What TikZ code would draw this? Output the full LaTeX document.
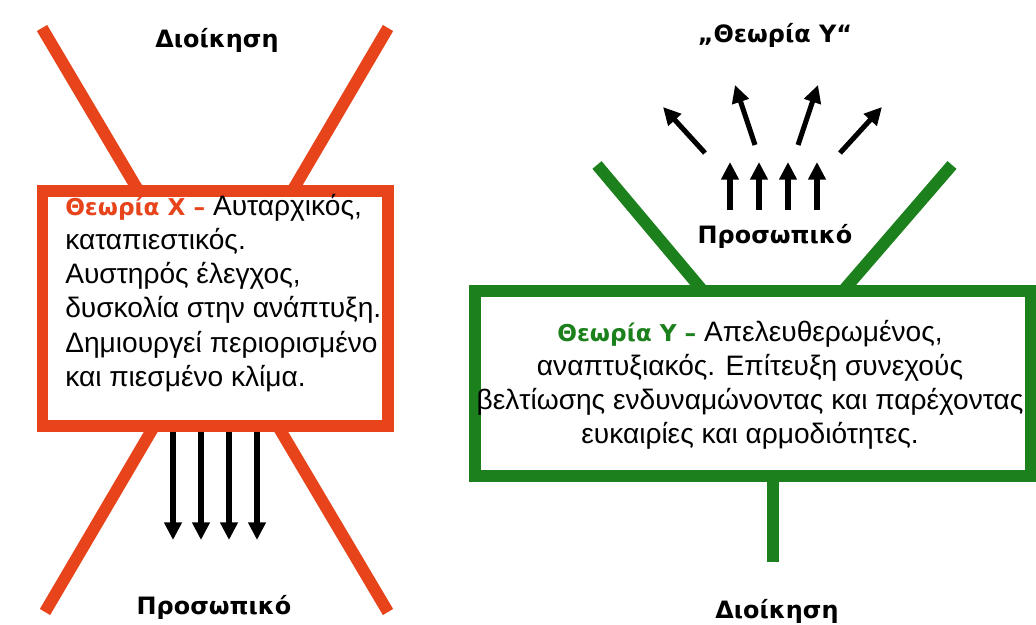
\documentclass[tikz,border=0pt]{standalone}
\usepackage{fontspec}
\setmainfont{Liberation Sans}
\newfontfamily\boldlabel{DejaVu Sans}
\usepackage{xcolor}
\usetikzlibrary{arrows.meta}

\definecolor{theoryred}{RGB}{232,68,28}
\definecolor{theorygreen}{RGB}{28,128,28}

\newcommand{\headline}[2]{\textcolor{#1}{\boldlabel\bfseries\fontsize{16.5}{24.3}\selectfont #2}}

\begin{document}
\begin{tikzpicture}[x=0.7113pt, y=-0.7113pt,
    beamX/.style={theoryred, line width=8.5pt},
    beamY/.style={theorygreen, line width=8.5pt},
    flow/.style={-{Triangle[length=12.5pt,width=12pt]}, line width=3.6pt},
    label/.style={font=\boldlabel\bfseries\fontsize{17}{20}\selectfont, inner sep=0pt},
    body/.style={font=\fontsize{20}{24.3}\selectfont, inner sep=0pt}]

    \useasboundingbox (0,0) rectangle (1036,625);

    % Crossed beams of theory X
    \draw[beamX] (42,28) -- (388,612);
    \draw[beamX] (388,28) -- (45,612);

    % Box of theory X, hiding the crossing
    \draw[beamX, fill=white] (42.5,191) rectangle (388,426);

    % Text of theory X
    \node[body, anchor=north west, align=left] (textX) at (65,194)
        {\headline{theoryred}{Θεωρία Χ –} Αυταρχικός,\\
         καταπιεστικός.\\
         Αυστηρός έλεγχος,\\
         δυσκολία στην ανάπτυξη.\\
         Δημιουργεί περιορισμένο\\
         και πιεσμένο κλίμα.};

    % Pressure down on the staff
    \foreach \xa in {173,201,229,257}
        \draw[flow] (\xa,432) -- (\xa,540);

    % Labels of theory X
    \node[label] (bossX) at (217,40) {Διοίκηση};
    \node[label] (staffX) at (214,607) {Προσωπικό};

    % V beams and stem of theory Y
    \draw[beamY] (597,165) -- (703,291);
    \draw[beamY] (952,165) -- (843,291);
    \draw[beamY] (773,476) -- (773,562);

    % Box of theory Y
    \draw[beamY, fill=white] (475,291) rectangle (1031,476);

    % Text of theory Y
    \node[body, anchor=north, align=center] (textY) at (750,320)
        {\headline{theorygreen}{Θεωρία Υ –} Απελευθερωμένος,\\
         αναπτυξιακός. Επίτευξη συνεχούς\\
         βελτίωσης ενδυναμώνοντας και παρέχοντας\\
         ευκαιρίες και αρμοδιότητες.};

    % Staff pushing up, then spreading out
    \foreach \xa in {730,759,788,817}
        \draw[flow] (\xa,210) -- (\xa,162);
    \foreach \xs/\ys/\xe/\ye in {705/153/663/107, 755/145/735/85,
                                 798/145/818/85, 840/153/882/107}
        \draw[flow] (\xs,\ys) -- (\xe,\ye);

    % Labels of theory Y
    \node[label] (titleY) at (775,35) {„Θεωρία Υ“};
    \node[label] (staffY) at (775,236) {Προσωπικό};
    \node[label] (bossY) at (777,611) {Διοίκηση};

\end{tikzpicture}
\end{document}
